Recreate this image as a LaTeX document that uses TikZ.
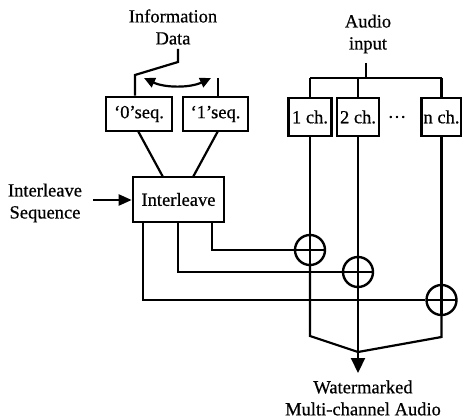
\documentclass[tikz,border=0pt]{standalone}
\usepackage{fontspec}
\setmainfont{Liberation Serif}[FakeBold=0.6]
\usetikzlibrary{arrows.meta}
\begin{document}
\begin{tikzpicture}[x=1pt,y=-1pt,
  font=\fontsize{18.5}{22}\selectfont,
  wire/.style={line width=2.2pt},
  box/.style={draw,line width=2.6pt,rectangle,inner sep=0pt,minimum height=34pt},
  chbox/.style={draw,line width=2.6pt,rectangle,inner sep=0pt,minimum height=38pt},
  label/.style={align=center,inner sep=0pt},
  summer/.style={draw,circle,line width=2.4pt,minimum size=30pt,inner sep=0pt,
    path picture={\draw[line width=2.2pt] (path picture bounding box.north) -- (path picture bounding box.south)
      (path picture bounding box.west) -- (path picture bounding box.east);}},
]
\useasboundingbox (0,0) rectangle (462,419);
% texts
\node[label] (info) at (173,27) {Information\\Data};
\node[label] (audio) at (368,34) {Audio\\input};
\node[label] (iseq) at (45,203) {Interleave\\Sequence};
\node[label] (wm) at (363,398) {Watermarked\\Multi-channel Audio};
\node[inner sep=0pt] (dots) at (397,117) {…};
% boxes
\node[box,minimum width=66pt] (zero) at (139,114) {‘0’seq.};
\node[box,minimum width=65pt] (one) at (215.5,114) {‘1’seq.};
\node[box,minimum width=91pt,minimum height=45pt] (inter) at (178.5,199.5) {Interleave};
\node[chbox,minimum width=43pt] (ch1) at (310,117) {1 ch.};
\node[chbox,minimum width=42pt] (ch2) at (358,117) {2 ch.};
\node[chbox,minimum width=40pt] (chn) at (441.5,117) {n ch.};
% adders
\node[summer] (s1) at (310,250) {};
\node[summer] (s2) at (358,272) {};
\node[summer] (s3) at (441.5,300) {};
% switch
\coordinate (d0) at (178,49);
\coordinate (d1) at (178,62);
\coordinate (d2) at (135,75);
\coordinate (c1) at (218,78);
\draw[wire] (d0) -- (d1) -- (d2) -- (d2 |- zero.north);
\draw[wire] (c1) -- (c1 |- one.north);
\coordinate (ca) at (144,78);
\coordinate (cb) at (211,78);
\draw[wire,{Triangle[length=11pt,width=10pt]}-{Triangle[length=11pt,width=10pt]}]
  (ca) .. controls (165,88) and (190,88) .. (cb);
% seq to interleave
\coordinate (z0) at (138,131);
\coordinate (i0) at (163,177);
\coordinate (o0) at (218,131);
\coordinate (i1) at (193,177);
\draw[wire] (z0) -- (i0);
\draw[wire] (o0) -- (i1);
% interleave sequence arrow
\coordinate (ia) at (93,200);
\draw[wire,-{Triangle[length=13pt,width=11pt]}] (ia) -- (inter.west |- ia);
% audio input
\coordinate (a0) at (366,63);
\coordinate (a1) at (366,78);
\draw[wire] (a0) -- (a1);
\draw[wire] (ch1.north |- a1) -- (chn.north |- a1);
\draw[wire] (ch1.north |- a1) -- (ch1.north);
\draw[wire] (ch2.north |- a1) -- (ch2.north);
\draw[wire] (chn.north |- a1) -- (chn.north);
% channel lines
\draw[wire] (ch1.south) -- (s1.north);
\draw[wire] (ch2.south) -- (s2.north);
\draw[wire] (chn.south) -- (s3.north);
% interleave outputs
\coordinate (p1) at (212,222);
\coordinate (p2) at (178,222);
\coordinate (p3) at (143,222);
\draw[wire] (p1) |- (s1.west);
\draw[wire] (p2) |- (s2.west);
\draw[wire] (p3) |- (s3.west);
% outputs
\coordinate (b1) at (310,336);
\coordinate (b3) at (441.5,337);
\coordinate (m) at (358,352);
\coordinate (tip) at (358,373);
\draw[wire] (s1.south) -- (b1) -- (m);
\draw[wire] (s3.south) -- (b3) -- (m);
\draw[wire,-{Triangle[length=15pt,width=14pt]}] (s2.south) -- (tip);
\end{tikzpicture}
\end{document}
